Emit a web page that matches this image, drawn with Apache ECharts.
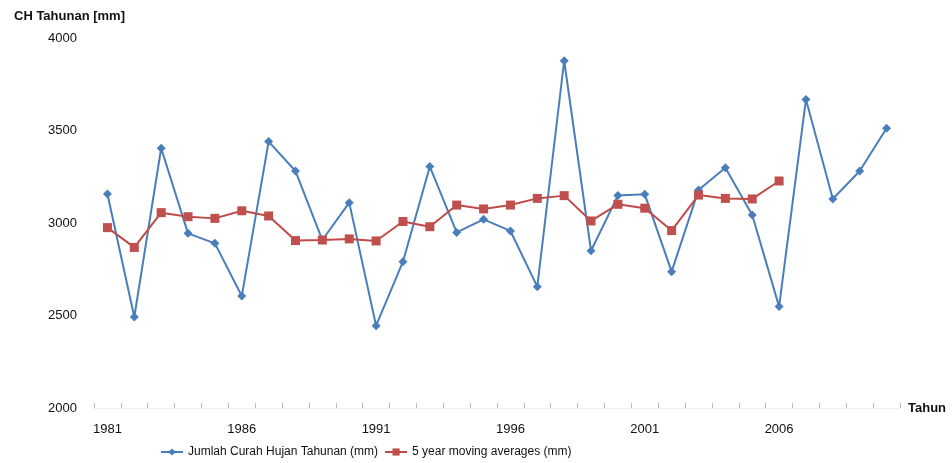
<!DOCTYPE html>
<html>
<head>
<meta charset="utf-8">
<script src="https://cdn.jsdelivr.net/npm/echarts@6/dist/echarts.min.js"></script>
<style>html,body{margin:0;padding:0;background:#fff}#c{width:952px;height:463px}</style>
</head>
<body>
<div id="c"></div>
<script>
const years = ['1981','1982','1983','1984','1985','1986','1987','1988','1989','1990',
  '1991','1992','1993','1994','1995','1996','1997','1998','1999','2000',
  '2001','2002','2003','2004','2005','2006','2007','2008','2009','2010'];
const annualRain = [3157,2492,3404,2944,2890,2605,3440,3281,2908,3110,
  2445,2791,3305,2949,3020,2957,2656,3877,2850,3148,
  3155,2737,3178,3299,3043,2548,3668,3130,3281,3512];
const movingAvg = [2975,2868,3056,3034,3025,3066,3038,2905,2908,2914,
  2903,3008,2980,3097,3076,3097,3133,3148,3011,3101,
  3080,2959,3151,3133,3130,3227,null,null,null,null];
const seriesNames = ['Jumlah Curah Hujan Tahunan (mm)', '5 year moving averages (mm)'];

const chart = echarts.init(document.getElementById('c'));
const font = 'Liberation Sans, Arial, sans-serif';
chart.setOption({
  animation: false,
  backgroundColor: '#fff',
  title: {
    text: 'CH Tahunan [mm]', left: 9, top: 5,
    textStyle: {fontFamily: font, fontSize: 13, fontWeight: 'bold', color: '#111'}
  },
  legend: {
    top: 441, left: 155, itemGap: 6, itemWidth: 22, itemHeight: 9,
    textStyle: {fontFamily: font, fontSize: 12, color: '#111'},
    data: seriesNames
  },
  grid: {left: 94, right: 52, top: 38, bottom: 55},
  xAxis: {
    type: 'category', data: years, boundaryGap: true,
    name: 'Tahun', nameLocation: 'end', nameGap: 8,
    nameTextStyle: {fontFamily: font, fontSize: 13, fontWeight: 'bold', color: '#111', verticalAlign: 'middle', padding: [6, 0, 0, 0]},
    axisLine: {show: true, lineStyle: {color: '#efefef', width: 1}},
    axisTick: {show: true, inside: true, interval: 0, length: 5, lineStyle: {color: '#bbb'}},
    axisLabel: {interval: 4, margin: 15, fontFamily: font, fontSize: 13, color: '#111'},
    splitLine: {show: false}
  },
  yAxis: {
    type: 'value', min: 2000, max: 4000, interval: 500,
    axisLine: {show: false}, axisTick: {show: false},
    axisLabel: {margin: 17, fontFamily: font, fontSize: 13, color: '#111', formatter: v => String(v)},
    splitLine: {show: false}
  },
  series: [
    {
      name: seriesNames[0], type: 'line', data: annualRain,
      symbol: 'diamond', symbolSize: 9,
      lineStyle: {color: '#4A7EBB', width: 2},
      itemStyle: {color: '#4A7EBB'}
    },
    {
      name: seriesNames[1], type: 'line', data: movingAvg,
      symbol: 'rect', symbolSize: 9,
      lineStyle: {color: '#BE4B48', width: 2},
      itemStyle: {color: '#C0504D'}
    }
  ]
});
</script>
</body>
</html>
